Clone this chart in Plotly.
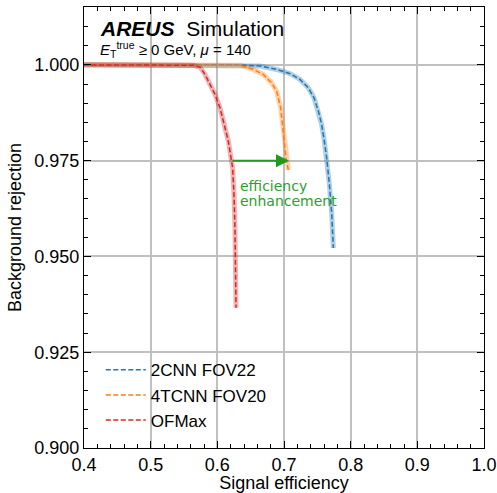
import plotly.graph_objects as go

# ---- data ----
cnn2_eff = [0.40, 0.55, 0.60, 0.640, 0.664, 0.689, 0.709, 0.724, 0.7365, 0.745, 0.7515, 0.7565, 0.7605, 0.764, 0.768, 0.7715, 0.774]
cnn2_rej = [1.0, 1.0, 1.0, 0.9999, 0.9997, 0.9988, 0.9977, 0.9962, 0.994, 0.9914, 0.988, 0.9844, 0.9801, 0.9757, 0.969, 0.9614, 0.9522]

tcnn4_eff = [0.40, 0.55, 0.60, 0.634, 0.654, 0.669, 0.6815, 0.689, 0.695, 0.698, 0.7005, 0.703, 0.7065]
tcnn4_rej = [1.0, 1.0, 1.0, 0.9999, 0.9988, 0.9975, 0.9953, 0.9931, 0.9888, 0.9844, 0.9801, 0.9757, 0.9726]

ofmax_eff = [0.40, 0.50, 0.55, 0.564, 0.574, 0.5815, 0.589, 0.5965, 0.604, 0.6105, 0.6165, 0.6205, 0.623, 0.625, 0.6265, 0.628]
ofmax_rej = [1.0, 1.0, 1.0, 0.9999, 0.9994, 0.9975, 0.9949, 0.9923, 0.9888, 0.9844, 0.9801, 0.9757, 0.9731, 0.966, 0.957, 0.9366]

series_names = ["2CNN FOV22", "4TCNN FOV20", "OFMax"]
series_colors = ["#1f77b4", "#ff7f0e", "#d62728"]
band_colors = ["rgba(31,119,180,0.35)", "rgba(255,127,14,0.35)", "rgba(214,39,40,0.35)"]

arrow_start = 0.6205
arrow_end = 0.7075
arrow_y = 0.975

x_ticks = [0.4, 0.5, 0.6, 0.7, 0.8, 0.9, 1.0]
y_ticks = [0.900, 0.925, 0.950, 0.975, 1.000]

FONT = "Liberation Sans"

fig = go.Figure()
data = [(cnn2_eff, cnn2_rej), (tcnn4_eff, tcnn4_rej), (ofmax_eff, ofmax_rej)]
for (xs, ys), name, c, bc in zip(data, series_names, series_colors, band_colors):
    fig.add_trace(go.Scatter(x=xs, y=ys, mode="lines", line=dict(color=bc, width=5),
                             showlegend=False, hoverinfo="skip"))
for (xs, ys), name, c, bc in zip(data, series_names, series_colors, band_colors):
    fig.add_trace(go.Scatter(x=xs, y=ys, mode="lines", name=name,
                             line=dict(color=c, width=1.5, dash="5px,2.5px")))

axis_common = dict(
    showline=True, linecolor="black", linewidth=1.2, mirror="allticks",
    ticks="inside", ticklen=7, tickwidth=1, tickcolor="black",
    showgrid=True, gridcolor="#c0c0c0", gridwidth=1.5,
    zeroline=False, automargin=False,
    tickfont=dict(family=FONT, size=18, color="black"),
)

fig.update_xaxes(range=[0.4, 1.0], tickvals=x_ticks, ticktext=[f"{v:.1f}" for v in x_ticks],
                 minor=dict(ticks="inside", ticklen=4, dtick=0.02, tickcolor="black", showgrid=False),
                 title=dict(text="Signal efficiency", font=dict(family=FONT, size=18, color="black"), standoff=0),
                 **axis_common)
fig.update_yaxes(range=[0.9, 1.0151], tickvals=y_ticks, ticktext=[f"{v:.3f}" for v in y_ticks],
                 minor=dict(ticks="inside", ticklen=4, dtick=0.005, tickcolor="black", showgrid=False),
                 title=dict(text="Background rejection", font=dict(family=FONT, size=18, color="black"), standoff=7),
                 **axis_common)

fig.add_annotation(x=arrow_end, y=arrow_y, ax=arrow_start, ay=arrow_y, xref="x", yref="y", axref="x", ayref="y",
                   showarrow=True, arrowhead=2, arrowsize=1.3, arrowwidth=2, arrowcolor="#1f9a1f", text="")
fig.add_annotation(x=0.631, y=0.9684, xref="x", yref="y", text="efficiency", showarrow=False,
                   xanchor="left", yanchor="middle", font=dict(family="DejaVu Sans", size=14, color="#2ca02c"))
fig.add_annotation(x=0.631, y=0.9645, xref="x", yref="y", text="enhancement", showarrow=False,
                   xanchor="left", yanchor="middle", font=dict(family="DejaVu Sans", size=14, color="#2ca02c"))

fig.add_annotation(x=0.035, y=0.952, xref="paper", yref="paper", xanchor="left", yanchor="middle", showarrow=False,
                   text="<b><i>AREUS</i></b>  Simulation", font=dict(family=FONT, size=21, color="black"))
fig.add_annotation(x=0.035, y=0.904, xref="paper", yref="paper", xanchor="left", yanchor="middle", showarrow=False,
                   text="<i>E</i><sub>T</sub><sup>true</sup> ≥ 0 GeV, <i>μ</i> = 140",
                   font=dict(family=FONT, size=15, color="black"))

fig.update_layout(
    width=497, height=493,
    margin=dict(l=84, r=13, t=7, b=45),
    paper_bgcolor="white", plot_bgcolor="white",
    legend=dict(x=0.042, y=0.022, xanchor="left", yanchor="bottom", bgcolor="rgba(0,0,0,0)",
                font=dict(family=FONT, size=17, color="black"), tracegroupgap=0, itemwidth=40),
    showlegend=True,
)

fig.write_html("out.html", config={"displayModeBar": False},
               post_script="document.body.style.margin='0';document.body.style.overflow='hidden';")
